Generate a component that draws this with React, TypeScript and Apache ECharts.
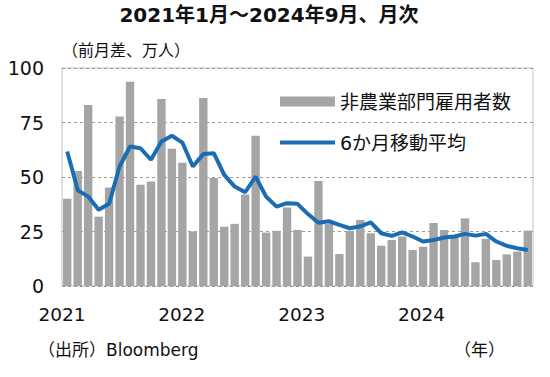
import React, { useEffect, useRef } from "react";
import * as echarts from "echarts";

const months: string[] = [];
for (let y = 2021; y <= 2024; y++) {
  for (let m = 1; m <= 12; m++) {
    if (y === 2024 && m > 9) break;
    months.push(`${y}-${m}`);
  }
}

const payrolls = [
  40, 52.7, 83, 31.8, 45.2, 77.8, 93.7, 46.4, 47.9, 85.8, 63, 56.5,
  25, 86.2, 49.5, 27.2, 28.5, 42, 68.9, 24.5, 25.3, 36, 25.7, 13.5,
  48.2, 28.5, 14.7, 25.3, 30.3, 24.2, 18.5, 21.1, 22.7, 16.5, 18, 28.9,
  25.7, 23.4, 31, 10.9, 21.6, 11.9, 14.5, 15.8, 25.4,
];

const movingAvg = [
  61.7, 44, 41, 35, 37.7, 54.8, 64, 63.2, 57.9, 66.3, 68.9, 65.8,
  54.8, 60.5, 60.9, 51, 45.6, 43, 50.2, 41, 36.4, 38, 37.7, 33,
  29, 29.7, 28, 26.5, 27.4, 29.2, 24.2, 23, 24.6, 22.7, 20.4, 21.1,
  22.2, 22.7, 23.9, 23.1, 23.9, 20.4, 18.4, 17.3, 16.5,
];

const yearLabels = ["2021", "2022", "2023", "2024"];
const yTicks = [0, 25, 50, 75, 100];

const FONT = "'DejaVu Sans', 'Noto Sans CJK JP', sans-serif";

export default function App() {
  const ref = useRef<HTMLDivElement>(null);
  useEffect(() => {
    if (!ref.current) return;
    const chart = echarts.init(ref.current, null, { renderer: "svg" });
    chart.setOption({
      animation: false,
      textStyle: { fontFamily: FONT },
      grid: { left: 62, right: 17, top: 68, bottom: 91, show: true, borderColor: "#bfbfbf", borderWidth: 1 },
      legend: {
        orient: "vertical",
        left: 275,
        top: 87,
        itemWidth: 55,
        itemHeight: 10,
        itemGap: 22,
        symbolKeepAspect: true,
        textStyle: { fontSize: 19, color: "#111", fontFamily: FONT },
        data: [
          { name: "非農業部門雇用者数", icon: "rect" },
          { name: "6か月移動平均", icon: "path://M0,0L55,0L55,4L0,4Z" },
        ],
      },
      xAxis: [
        {
          type: "category",
          data: months,
          axisLine: { show: false },
          axisTick: { show: false },
          axisLabel: { show: false },
        },
        {
          type: "value",
          min: 0,
          max: 45,
          interval: 11.45,
          position: "bottom",
          axisLine: { show: false },
          axisTick: { show: false },
          splitLine: { show: false },
          axisLabel: {
            show: true,
            showMaxLabel: false,
            margin: 19,
            fontSize: 18.5,
            color: "#111",
            fontFamily: FONT,
            formatter: (v: number) => {
              const i = Math.round(v / 11.45);
              return i < yearLabels.length ? yearLabels[i] : "";
            },
          },
        },
      ],
      yAxis: {
        type: "value",
        min: yTicks[0],
        max: yTicks[yTicks.length - 1],
        interval: 25,
        axisLine: { show: false },
        axisTick: { show: false },
        axisLabel: { fontSize: 19, color: "#111", margin: 18, fontFamily: FONT },
        splitLine: { lineStyle: { type: [3, 3], color: "#9a9a9a", width: 1 } },
      },
      series: [
        {
          name: "非農業部門雇用者数",
          type: "bar",
          data: payrolls,
          barCategoryGap: "20%",
          itemStyle: { color: "#a5a5a5" },
        },
        {
          name: "6か月移動平均",
          type: "line",
          data: movingAvg,
          symbol: "none",
          lineStyle: { color: "#1b6db3", width: 4 },
          itemStyle: { color: "#1b6db3" },
        },
      ],
      graphic: [
        {
          type: "text",
          x: 269,
          y: 15,
          style: {
            text: "2021年1月～2024年9月、月次",
            fontSize: 20,
            fontWeight: "bold",
            fill: "#111",
            align: "center",
            verticalAlign: "middle",
            fontFamily: FONT,
          },
        },
        {
          type: "text",
          x: 62,
          y: 50,
          style: { text: "（前月差、万人）", fontSize: 16, fill: "#111", verticalAlign: "middle", fontFamily: FONT },
        },
        {
          type: "text",
          x: 38,
          y: 350,
          style: { text: "（出所）Bloomberg", fontSize: 17, fill: "#111", verticalAlign: "middle", fontFamily: FONT },
        },
        {
          type: "text",
          x: 454,
          y: 350,
          style: { text: "（年）", fontSize: 17, fill: "#111", verticalAlign: "middle", fontFamily: FONT },
        },
      ],
    });
    return () => chart.dispose();
  }, []);
  return <div ref={ref} style={{ width: 550, height: 377, position: "absolute", left: 0, top: 0 }} />;
}
